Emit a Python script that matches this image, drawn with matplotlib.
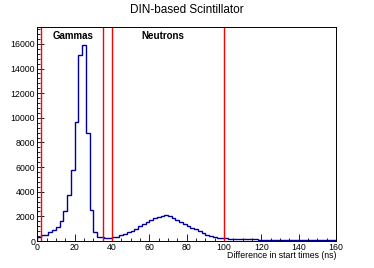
import numpy as np
import matplotlib.pyplot as plt
from matplotlib.ticker import MultipleLocator

# histogram of start time differences, 2 ns bins from 0 to 160 ns
edges = np.arange(0, 162, 2)
counts = [350, 480, 500, 700, 890, 1170, 1650, 2440, 3740, 5780,
          9700, 15070, 15920, 8730, 2490, 700, 300, 290, 280, 280,
          300, 350, 490, 570, 700, 840, 1000, 1190, 1380, 1570,
          1730, 1870, 1980, 2060, 2090, 2030, 1900, 1710, 1550, 1380,
          1220, 1080, 950, 800, 630, 490, 410, 330, 280, 260,
          220, 200, 180, 170, 160, 150, 140, 130, 125, 120,
          115, 110, 105, 100, 95, 90, 85, 85, 80, 75,
          75, 70, 70, 65, 60, 60, 55, 55, 50, 50]

cuts = [2, 35, 40, 100]
labels = ["Gammas", "Neutrons"]
label_x = [19, 67]

fig = plt.figure(figsize=(3.74, 2.68), dpi=100)
ax = fig.add_axes([0.0997, 0.1007, 0.7987, 0.7997])

ax.stairs(counts, edges, color='#000099', lw=1.0)
for c in cuts:
    ax.axvline(c, color='#ff0000', lw=1.0)

ax.set_xlim(0, 160)
ax.set_ylim(0, 17400)

for t, x in zip(labels, label_x):
    ax.text(x, 16650, t, ha='center', va='center', fontsize=7, fontweight='bold',
            family='Liberation Sans')

ax.set_title("DIN-based Scintillator", fontsize=8.5, family='Liberation Sans', pad=10)
ax.set_xlabel("Difference in start times (ns)", fontsize=6.3, family='Liberation Sans')
ax.xaxis.set_label_coords(1.0, -0.045)
ax.xaxis.label.set_horizontalalignment('right')

ax.xaxis.set_major_locator(MultipleLocator(20))
ax.xaxis.set_minor_locator(MultipleLocator(5))
ax.yaxis.set_major_locator(MultipleLocator(2000))
ax.yaxis.set_minor_locator(MultipleLocator(400))
ax.tick_params(which='both', direction='in', labelsize=6.3, pad=1.5, width=0.6)
ax.tick_params(which='major', length=5)
ax.tick_params(which='minor', length=2.5)
for lab in ax.get_xticklabels() + ax.get_yticklabels():
    lab.set_family('Liberation Sans')
for s in ax.spines.values():
    s.set_linewidth(0.7)

fig.savefig("out.png", dpi=100)
